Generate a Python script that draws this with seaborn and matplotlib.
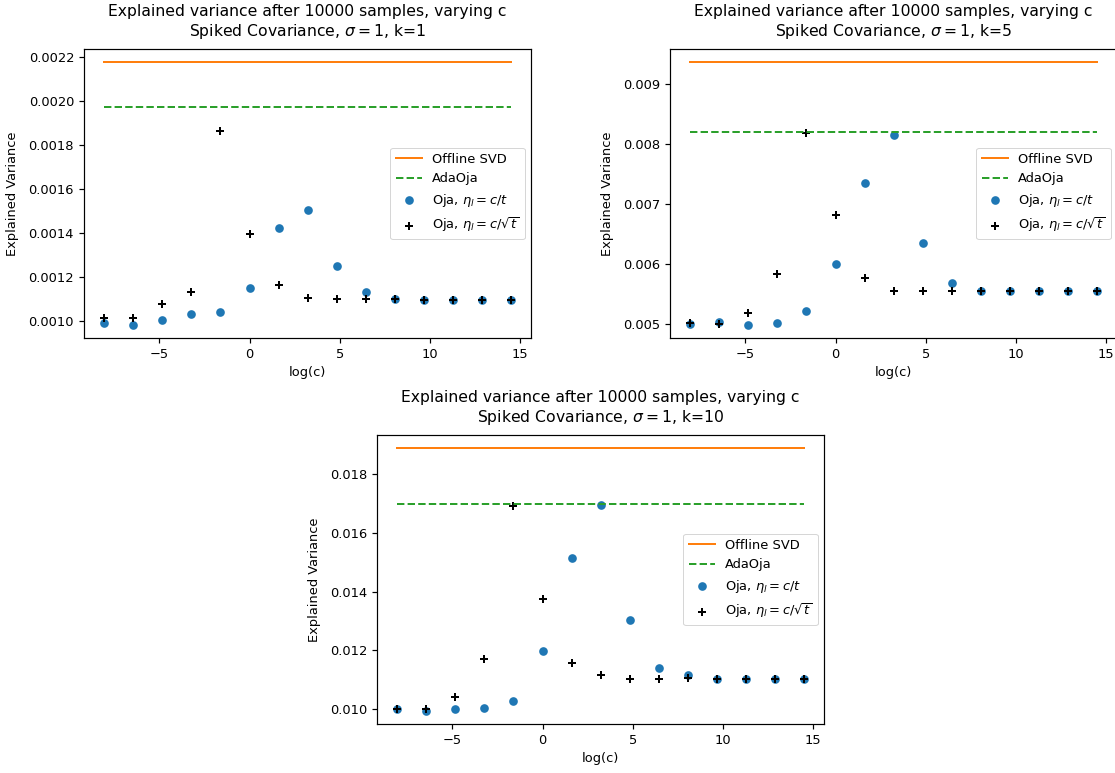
import matplotlib
matplotlib.use("Agg")
import matplotlib.pyplot as plt
import seaborn as sns

# log(c) positions
log_c = [-8.05, -6.44, -4.83, -3.22, -1.61, 0.0, 1.61, 3.22, 4.83, 6.44, 8.05, 9.66, 11.27, 12.88, 14.48]

# k = 1
k1_svd = 0.002178
k1_adaoja = 0.001973
k1_oja_t = [0.000992, 0.000982, 0.001005, 0.001030, 0.001041, 0.001151, 0.001421, 0.001505,
            0.001252, 0.001131, 0.001101, 0.001097, 0.001097, 0.001097, 0.001097]
k1_oja_sqrt = [0.001015, 0.001015, 0.001075, 0.001130, 0.001864, 0.001394, 0.001164, 0.001106,
               0.001100, 0.001100, 0.001101, 0.001097, 0.001097, 0.001097, 0.001097]

# k = 5
k5_svd = 0.009364
k5_adaoja = 0.008203
k5_oja_t = [0.005000, 0.005028, 0.004983, 0.005022, 0.005208, 0.005993, 0.007356, 0.008146,
            0.006346, 0.005673, 0.005544, 0.005544, 0.005544, 0.005544, 0.005544]
k5_oja_sqrt = [0.005011, 0.005000, 0.005174, 0.005824, 0.008180, 0.006812, 0.005757, 0.005555,
               0.005555, 0.005555, 0.005544, 0.005544, 0.005544, 0.005544, 0.005544]

# k = 10
k10_svd = 0.018889
k10_adaoja = 0.016974
k10_oja_t = [0.010000, 0.009943, 0.010000, 0.010046, 0.010274, 0.011972, 0.015162, 0.016940,
             0.013020, 0.011413, 0.011151, 0.011014, 0.011014, 0.011014, 0.011014]
k10_oja_sqrt = [0.010000, 0.010023, 0.010399, 0.011709, 0.016917, 0.013761, 0.011573, 0.011174,
                0.011037, 0.011037, 0.011048, 0.011014, 0.011014, 0.011014, 0.011014]

ks = [1, 5, 10]
svd_vals = [k1_svd, k5_svd, k10_svd]
ada_vals = [k1_adaoja, k5_adaoja, k10_adaoja]
oja_t_vals = [k1_oja_t, k5_oja_t, k10_oja_t]
oja_sqrt_vals = [k1_oja_sqrt, k5_oja_sqrt, k10_oja_sqrt]

W, H = 1115, 773
fig = plt.figure(figsize=(W / 72, H / 72), dpi=72)
aw, ah = 447 / W, 289 / H
positions = [
    (84 / W, 1 - 338 / H, aw, ah),
    (670 / W, 1 - 338 / H, aw, ah),
    (377 / W, 1 - 724 / H, aw, ah),
]

FS = 13
for i, pos in enumerate(positions):
    ax = fig.add_axes(pos)
    xs = [log_c[0], log_c[-1]]
    sns.lineplot(x=xs, y=[svd_vals[i]] * 2, color="#ff7f0e", linewidth=2.0,
                 label="Offline SVD", ax=ax)
    sns.lineplot(x=xs, y=[ada_vals[i]] * 2, color="#2ca02c", linestyle="--", linewidth=2.0,
                 label="AdaOja", ax=ax)
    sns.scatterplot(x=log_c, y=oja_t_vals[i], color="#1f77b4", s=75, linewidth=0,
                    label=r"Oja, $\eta_l = c/t$", ax=ax)
    sns.scatterplot(x=log_c, y=oja_sqrt_vals[i], color="black", marker="+", s=65, linewidth=2.0,
                    label=r"Oja, $\eta_l = c/\sqrt{t}$", ax=ax)
    ax.set_title("Explained variance after 10000 samples, varying c\n"
                 r"Spiked Covariance, $\sigma = 1$, k=" + str(ks[i]), fontsize=15.6, pad=13)
    ax.set_xlabel("log(c)", fontsize=FS, labelpad=5)
    ax.set_ylabel("Explained Variance", fontsize=FS, labelpad=9)
    ax.tick_params(labelsize=FS, width=1.2, length=5, pad=5)
    for sp in ax.spines.values():
        sp.set_linewidth(1.2)
    ax.legend(loc="center right", fontsize=FS)

fig.savefig("out.png", dpi=72)
